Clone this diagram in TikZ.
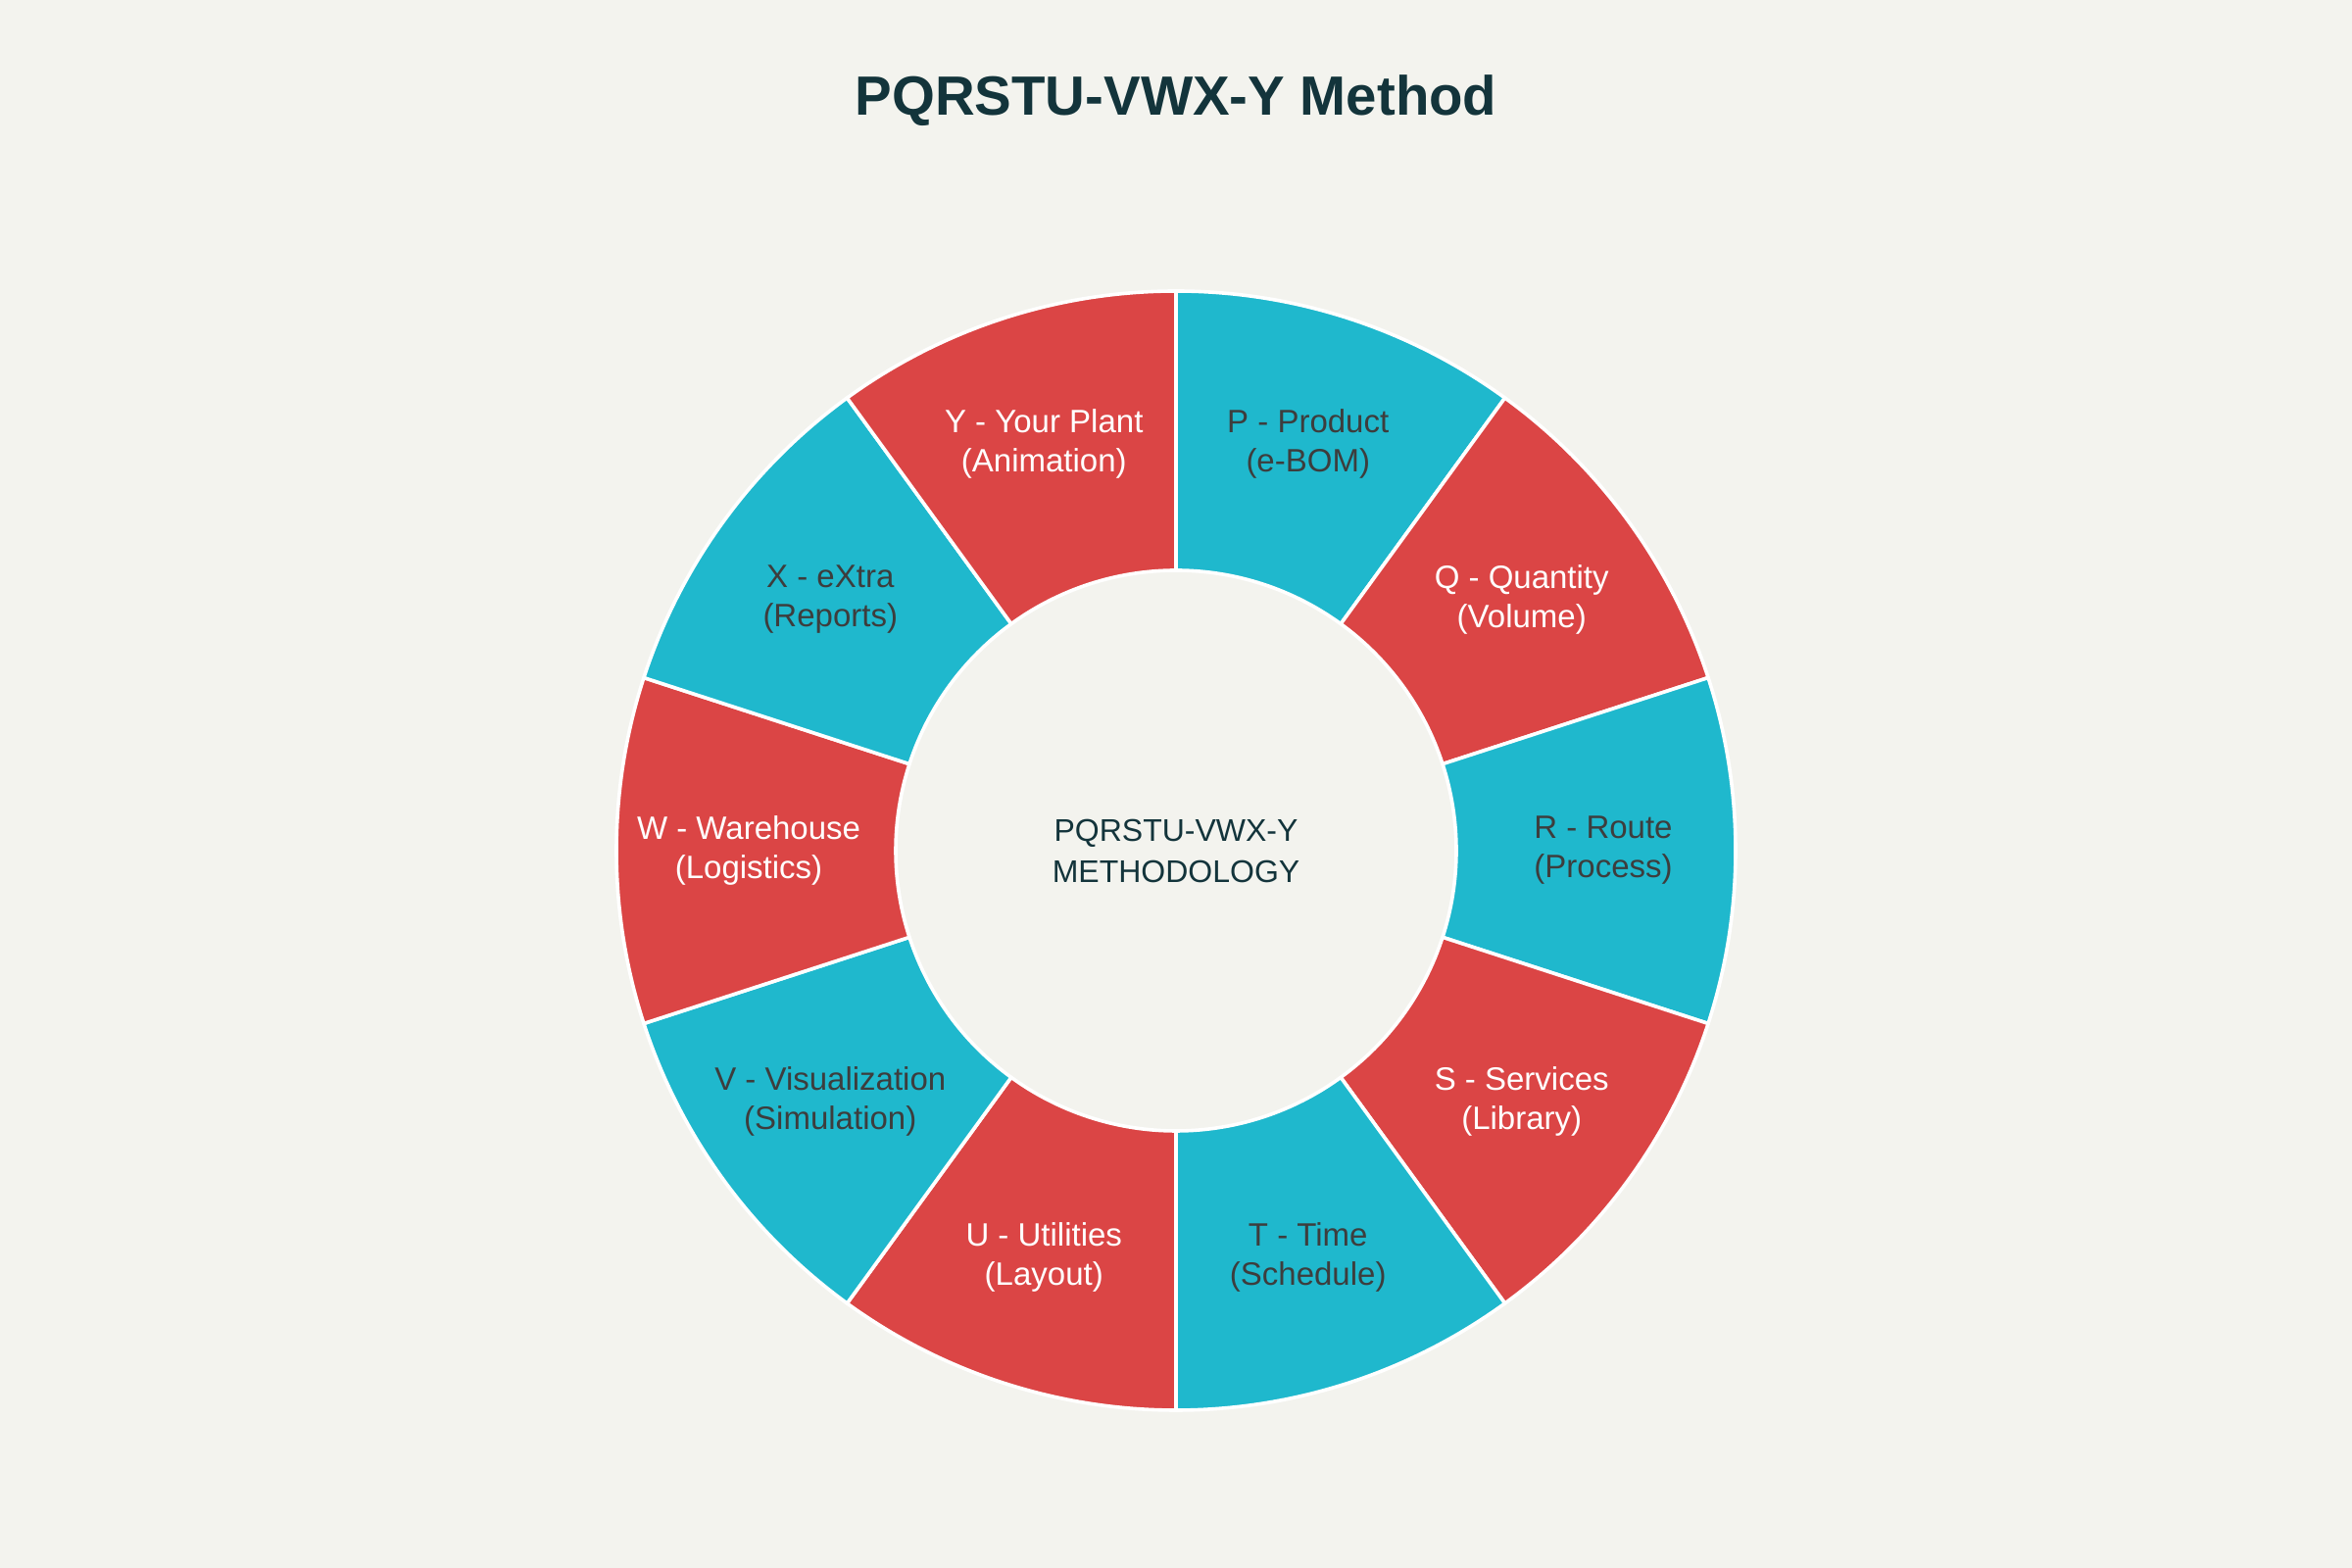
\documentclass[tikz,border=0pt]{standalone}
\usepackage{fontspec}
\setmainfont{Liberation Sans}
\definecolor{bg}{HTML}{F3F3EE}
\definecolor{wred}{HTML}{DB4545}
\definecolor{wteal}{HTML}{1FB8CD}
\definecolor{titlec}{HTML}{13343B}
\definecolor{dtext}{HTML}{3D3D3D}
\begin{document}
\begin{tikzpicture}[x=0.5pt,y=0.5pt,
  wedge/.style={draw=white,line width=1.8pt,line join=round},
  lbl/.style={align=center,font=\fontsize{16.5}{20}\selectfont,inner sep=0pt},
  onteal/.style={lbl,text=dtext},
  onred/.style={lbl,text=white}]
\fill[bg] (0,0) rectangle (2400,1600);
\useasboundingbox (0,0) rectangle (2400,1600);
\node[font=\fontsize{28.2}{34}\bfseries\selectfont,text=titlec] (title) at (1200,1497) {PQRSTU-VWX-Y Method};
\begin{scope}[shift={(1200,732)}]
\foreach \a/\c in {90/wteal,54/wred,18/wteal,-18/wred,-54/wteal,-90/wred,-126/wteal,-162/wred,-198/wteal,-234/wred}{
  \pgfmathsetmacro{\b}{\a-36}
  \draw[wedge,fill=\c] (\a:286) arc[start angle=\a,end angle=\b,radius=286] -- (\b:571) arc[start angle=\b,end angle=\a,radius=571] -- cycle;
}
\node[onteal] (P) at (72:436) {P - Product\\(e-BOM)};
\node[onred] (Q) at (36:436) {Q - Quantity\\(Volume)};
\node[onteal] (R) at (0:436) {R - Route\\(Process)};
\node[onred] (S) at (-36:436) {S - Services\\(Library)};
\node[onteal] (T) at (-72:436) {T - Time\\(Schedule)};
\node[onred] (U) at (-108:436) {U - Utilities\\(Layout)};
\node[onteal] (V) at (-144:436) {V - Visualization\\(Simulation)};
\node[onred] (W) at (180:436) {W - Warehouse\\(Logistics)};
\node[onteal] (X) at (144:436) {X - eXtra\\(Reports)};
\node[onred] (Y) at (108:436) {Y - Your Plant\\(Animation)};
\node[align=center,font=\fontsize{16}{21}\selectfont,text=titlec,inner sep=0pt] (center) at (0,0) {PQRSTU-VWX-Y\\METHODOLOGY};
\end{scope}
\end{tikzpicture}
\end{document}
